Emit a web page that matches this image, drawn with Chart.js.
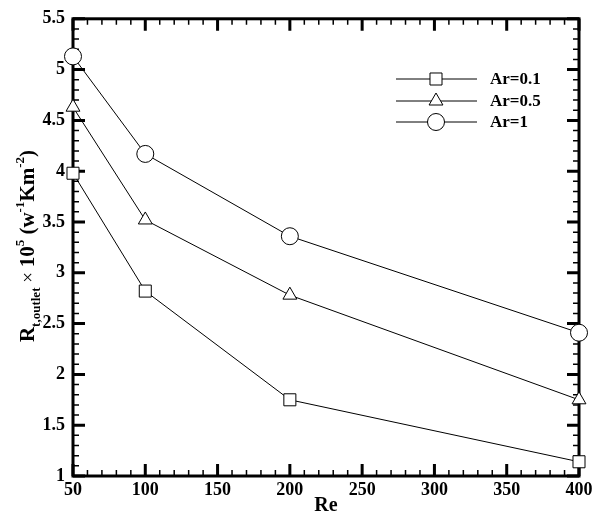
<!DOCTYPE html>
<html>
<head>
<meta charset="utf-8">
<script src="https://cdn.jsdelivr.net/npm/chart.js@4"></script>
<style>
  html, body { margin: 0; padding: 0; background: #fff; }
  #wrap { width: 600px; height: 518px; position: relative; }
</style>
</head>
<body>
<div id="wrap"><canvas id="chart"></canvas></div>
<script>
const reValues = [50, 100, 200, 400];
const ar01 = [3.98, 2.82, 1.75, 1.14];
const ar05 = [4.63, 3.52, 2.78, 1.75];
const ar1 = [5.13, 4.17, 3.36, 2.41];
const seriesNames = ['Ar=0.1', 'Ar=0.5', 'Ar=1'];
const xTicks = [50, 100, 150, 200, 250, 300, 350, 400];
const yTicks = [1, 1.5, 2, 2.5, 3, 3.5, 4, 4.5, 5, 5.5];

const serif = '"Liberation Serif", "Times New Roman", serif';

function pts(ys) {
  return reValues.map((x, i) => ({ x: x, y: ys[i] }));
}

function ds(label, ys, style, radius) {
  return {
    label: label,
    data: pts(ys),
    borderColor: '#000',
    borderWidth: 1,
    pointStyle: style,
    pointRadius: radius,
    pointBorderWidth: 1,
    pointBackgroundColor: '#fff',
    pointBorderColor: '#000',
    tension: 0,
    clip: false
  };
}

// inward ticks on all four sides + thick frame
const frame = {
  id: 'frame',
  beforeDatasetsDraw(chart) {
    const c = chart.ctx;
    const a = chart.chartArea;
    const xs = chart.scales.x, ys = chart.scales.y;
    c.save();
    c.strokeStyle = '#000';
    for (let v = 50; v <= 400; v += 10) {
      const p = xs.getPixelForValue(v);
      const major = xTicks.includes(v);
      const len = major ? 12 : 6;
      c.lineWidth = major ? 3 : 1.5;
      c.beginPath();
      c.moveTo(p, a.bottom); c.lineTo(p, a.bottom - len);
      c.moveTo(p, a.top); c.lineTo(p, a.top + len);
      c.stroke();
    }
    for (let k = 0; k <= 45; k++) {
      const v = 1 + k * 0.1;
      const p = ys.getPixelForValue(v);
      const major = k % 5 === 0;
      const len = major ? 12 : 6;
      c.lineWidth = major ? 3 : 1.5;
      c.beginPath();
      c.moveTo(a.left, p); c.lineTo(a.left + len, p);
      c.moveTo(a.right, p); c.lineTo(a.right - len, p);
      c.stroke();
    }
    c.lineWidth = 3;
    c.strokeRect(a.left, a.top, a.right - a.left, a.bottom - a.top);
    c.restore();
  }
};

// legend: line through marker, bold label
const legendBox = {
  id: 'legendBox',
  afterDatasetsDraw(chart) {
    const c = chart.ctx;
    const rows = [79, 101, 122];
    c.save();
    chart.data.datasets.forEach((d, i) => {
      const y = rows[i];
      c.strokeStyle = '#000';
      c.lineWidth = 1;
      c.beginPath();
      c.moveTo(396, y); c.lineTo(477, y);
      c.stroke();
      c.fillStyle = '#fff';
      Chart.helpers.drawPoint(c, { pointStyle: d.pointStyle, radius: d.pointRadius, borderWidth: 1 }, 436, y);
      c.fillStyle = '#000';
      c.font = 'bold 17px ' + serif;
      c.textBaseline = 'middle';
      c.textAlign = 'left';
      c.fillText(d.label, 490, y + 1);
    });
    c.restore();
  }
};

// rotated y-axis title with sub/superscripts
const yTitle = {
  id: 'yTitle',
  afterDraw(chart) {
    const c = chart.ctx;
    const big = 'bold 21px ' + serif;
    const small = 'bold 13px ' + serif;
    const parts = [
      { t: 'R', f: big, dy: 0 },
      { t: 't,outlet', f: small, dy: 6 },
      { t: ' \u00d7 ', f: '19px ' + serif, dy: 0 },
      { t: '10', f: big, dy: 0 },
      { t: '5', f: small, dy: -10 },
      { t: ' (w', f: big, dy: 0 },
      { t: '-1', f: small, dy: -10 },
      { t: 'Km', f: big, dy: 0 },
      { t: '-2', f: small, dy: -10 },
      { t: ')', f: big, dy: 0 }
    ];
    c.save();
    let total = 0;
    parts.forEach(p => { c.font = p.f; p.w = c.measureText(p.t).width; total += p.w; });
    c.translate(34, 246);
    c.rotate(-Math.PI / 2);
    c.fillStyle = '#000';
    c.textBaseline = 'alphabetic';
    c.textAlign = 'left';
    let x = -total / 2;
    parts.forEach(p => { c.font = p.f; c.fillText(p.t, x, p.dy); x += p.w; });
    c.restore();
  }
};

new Chart(document.getElementById('chart'), {
  type: 'line',
  data: {
    datasets: [
      ds(seriesNames[0], ar01, 'rect', 8.5),
      ds(seriesNames[1], ar05, 'triangle', 8),
      ds(seriesNames[2], ar1, 'circle', 8.5)
    ]
  },
  options: {
    responsive: true,
    maintainAspectRatio: false,
    animation: false,
    layout: { padding: { left: 0, right: 21, top: 16, bottom: 0 } },
    plugins: {
      legend: { display: false },
      tooltip: { enabled: false }
    },
    scales: {
      x: {
        type: 'linear',
        min: 50,
        max: 400,
        afterBuildTicks: s => { s.ticks = xTicks.map(v => ({ value: v })); },
        afterFit: s => { s.height = 42; },
        grid: { display: false, drawTicks: false },
        border: { display: false },
        ticks: {
          color: '#000',
          padding: 4,
          maxRotation: 0,
          autoSkip: false,
          callback: v => String(v),
          font: { family: serif, size: 18, weight: 'bold' }
        },
        title: {
          display: true,
          text: 'Re',
          color: '#000',
          padding: { top: -2, bottom: 0 },
          font: { family: serif, size: 20, weight: 'bold' }
        }
      },
      y: {
        type: 'linear',
        min: 1,
        max: 5.5,
        afterBuildTicks: s => { s.ticks = yTicks.map(v => ({ value: v })); },
        afterFit: s => { s.width = 73; },
        grid: { display: false, drawTicks: false },
        border: { display: false },
        ticks: {
          color: '#000',
          padding: 8,
          autoSkip: false,
          callback: v => String(v),
          font: { family: serif, size: 18, weight: 'bold' }
        }
      }
    }
  },
  plugins: [frame, legendBox, yTitle]
});
</script>
</body>
</html>
